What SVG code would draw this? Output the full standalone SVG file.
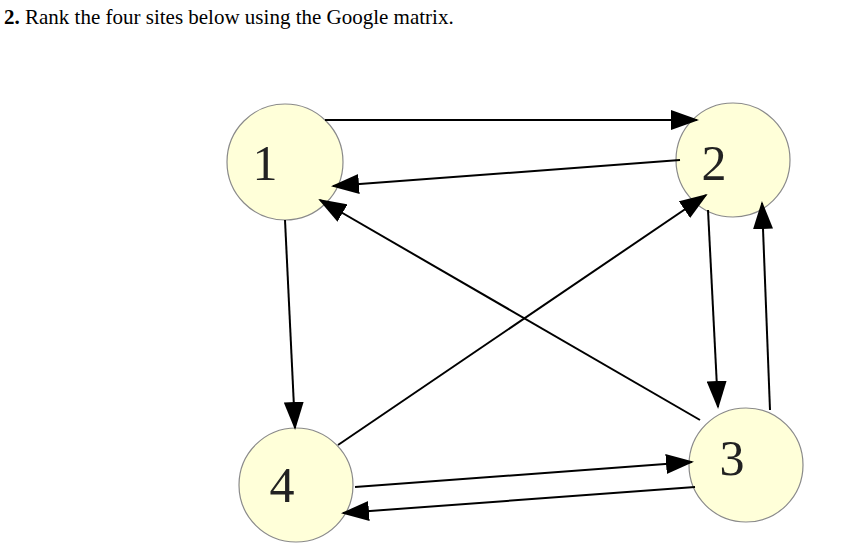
<svg xmlns="http://www.w3.org/2000/svg" width="847" height="550" viewBox="0 0 847 550">
<style>
.n{fill:#FFFFD9;stroke:#8a8a8a;stroke-width:1.2}
.l{font-family:"Liberation Serif",serif;font-size:50px;fill:#222;text-anchor:middle}
.e{stroke:#000;stroke-width:2;fill:none;marker-end:url(#a)}
</style>
<defs><marker id="a" markerWidth="28" markerHeight="20" refX="26" refY="10" orient="auto" markerUnits="userSpaceOnUse"><path d="M0,0L28,10L0,20z" fill="#000"/></marker></defs>
<rect width="847" height="550" fill="#fff"/>
<text x="4" y="24" font-family="Liberation Serif,serif" font-size="21"><tspan font-weight="bold">2.</tspan> Rank the four sites below using the Google matrix.</text>
<g id="n1"><circle class="n" cx="285" cy="162" r="58"/><text class="l" x="265" y="180">1</text></g>
<g id="n2"><circle class="n" cx="733" cy="160" r="57"/><text class="l" x="714" y="180">2</text></g>
<g id="n3"><circle class="n" cx="746" cy="465" r="57"/><text class="l" x="732" y="475">3</text></g>
<g id="n4"><circle class="n" cx="296" cy="485" r="57"/><text class="l" x="282" y="502">4</text></g>
<g id="edges">
<line class="e" x1="325" y1="120" x2="697" y2="120"/>
<line class="e" x1="680" y1="160" x2="333" y2="186"/>
<line class="e" x1="700" y1="420" x2="320" y2="200"/>
<line class="e" x1="285" y1="220" x2="295" y2="428"/>
<line class="e" x1="338" y1="445" x2="706" y2="195"/>
<line class="e" x1="708" y1="210" x2="718" y2="407"/>
<line class="e" x1="770" y1="410" x2="762" y2="203"/>
<line class="e" x1="355" y1="487" x2="692" y2="462"/>
<line class="e" x1="695" y1="487" x2="343" y2="513"/>
</g>
</svg>
